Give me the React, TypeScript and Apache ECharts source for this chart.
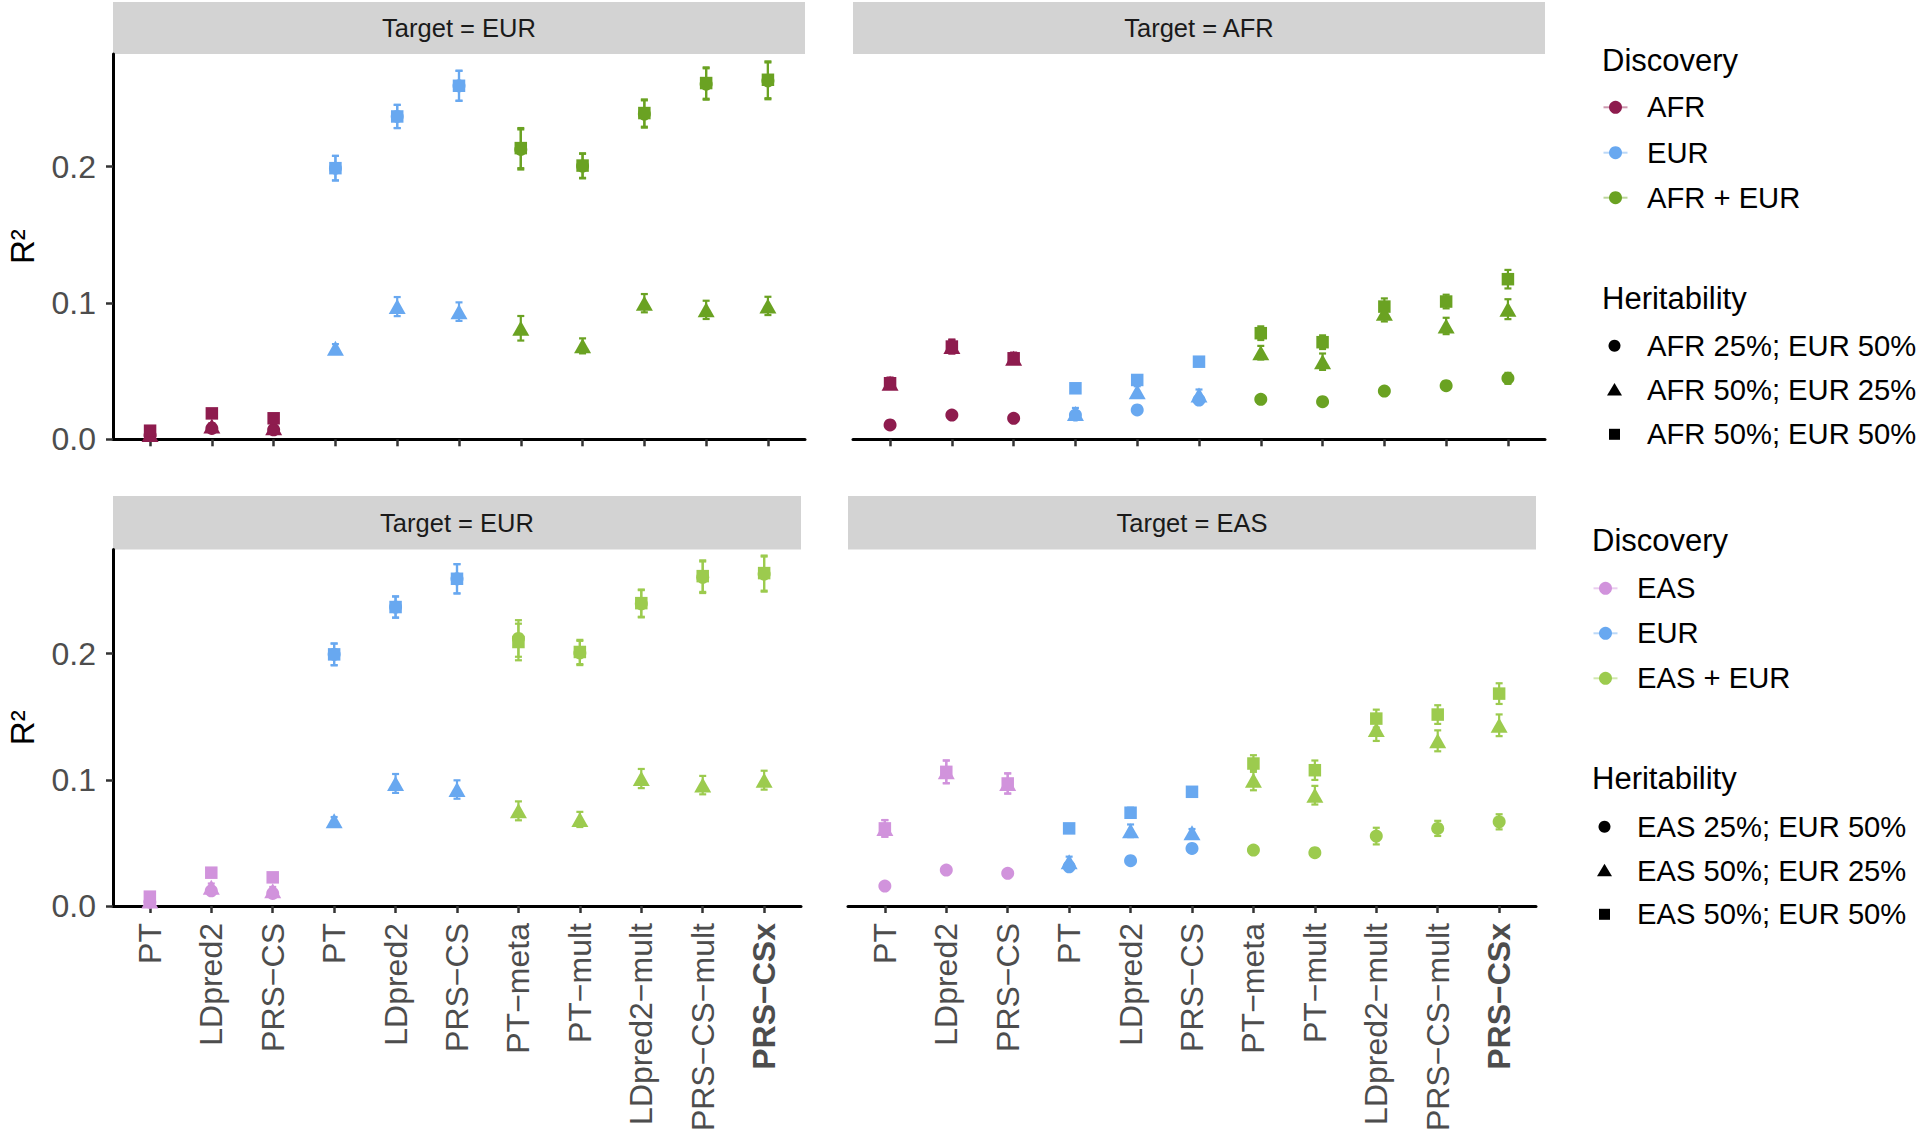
import React, { useEffect, useRef } from "react";
import * as echarts from "echarts";

// ---------- data ----------
const methods = [
  "PT", "LDpred2", "PRS−CS", "PT", "LDpred2", "PRS−CS",
  "PT−meta", "PT−mult", "LDpred2−mult", "PRS−CS−mult", "PRS−CSx",
];
const methodIdx = [0, 1, 2, 3, 4, 5, 6, 7, 8, 9, 10];
const yTicks = [0, 0.1, 0.2];
const panelTitles = ["Target = EUR", "Target = AFR", "Target = EUR", "Target = EAS"];
const discoveryTop = ["AFR", "EUR", "AFR + EUR"];
const discoveryBottom = ["EAS", "EUR", "EAS + EUR"];
const heritTop = ["AFR 25%; EUR 50%", "AFR 50%; EUR 25%", "AFR 50%; EUR 50%"];
const heritBottom = ["EAS 25%; EUR 50%", "EAS 50%; EUR 25%", "EAS 50%; EUR 50%"];
const groups = [[0, 1, 2], [3, 4, 5], [6, 7, 8, 9, 10]];

// Top-left: Target = EUR (AFR discovery set)
const tlCircle = [0.003, 0.008, 0.007, 0.1988, 0.2367, 0.2592, 0.2125, 0.2003, 0.2385, 0.2605, 0.2628];
const tlTriangle = [0.0035, 0.0098, 0.0085, 0.0668, 0.0973, 0.0936, 0.0814, 0.0685, 0.0998, 0.0949, 0.0978];
const tlSquare = [0.0063, 0.019, 0.0154, 0.1988, 0.2367, 0.2592, 0.2135, 0.2007, 0.2392, 0.2612, 0.2636];
const tlCircleErr = [0.001, 0.002, 0.002, 0.009, 0.0085, 0.011, 0.0147, 0.009, 0.01, 0.0115, 0.0135];
const tlTriangleErr = [0.001, 0.002, 0.002, 0.003, 0.007, 0.0068, 0.009, 0.0055, 0.0067, 0.0067, 0.0067];
const tlSquareErr = [0.002, 0.003, 0.003, 0.009, 0.0085, 0.011, 0.0147, 0.009, 0.01, 0.0115, 0.0135];

// Top-right: Target = AFR
const trCircle = [0.0105, 0.0178, 0.0154, 0.0178, 0.0215, 0.0288, 0.0293, 0.0276, 0.0354, 0.0393, 0.0447];
const trTriangle = [0.0411, 0.068, 0.0594, 0.019, 0.0349, 0.0325, 0.0635, 0.0569, 0.0924, 0.0831, 0.0954];
const trSquare = [0.0411, 0.068, 0.0594, 0.0374, 0.0435, 0.0569, 0.0778, 0.0712, 0.0973, 0.101, 0.1174];
const trCircleErr = [0.002, 0.002, 0.002, 0.002, 0.002, 0.003, 0.003, 0.003, 0.003, 0.003, 0.004];
const trTriangleErr = [0.004, 0.005, 0.004, 0.004, 0.004, 0.004, 0.005, 0.006, 0.006, 0.006, 0.0073];
const trSquareErr = [0.004, 0.005, 0.004, 0.003, 0.003, 0.003, 0.005, 0.005, 0.006, 0.005, 0.0068];

// Bottom-left: Target = EUR (EAS discovery set)
const blCircle = [0.003, 0.012, 0.01, 0.1994, 0.2369, 0.2593, 0.212, 0.2005, 0.2395, 0.2605, 0.263];
const blTriangle = [0.004, 0.0148, 0.0121, 0.0675, 0.0971, 0.0923, 0.0754, 0.0686, 0.101, 0.0958, 0.0997];
const blSquare = [0.0074, 0.0264, 0.0227, 0.1994, 0.2369, 0.2593, 0.2092, 0.2013, 0.24, 0.2614, 0.2638];
const blCircleErr = [0.001, 0.002, 0.002, 0.0086, 0.0084, 0.0116, 0.0145, 0.0096, 0.0108, 0.0125, 0.0139];
const blTriangleErr = [0.001, 0.003, 0.003, 0.003, 0.0075, 0.0073, 0.0075, 0.006, 0.0076, 0.0073, 0.0075];
const blSquareErr = [0.002, 0.003, 0.003, 0.0086, 0.0084, 0.0116, 0.0145, 0.0096, 0.0108, 0.0125, 0.0139];

// Bottom-right: Target = EAS
const brCircle = [0.0158, 0.0285, 0.0259, 0.0311, 0.0359, 0.0456, 0.0443, 0.0422, 0.0554, 0.0615, 0.0667];
const brTriangle = [0.0615, 0.1063, 0.0971, 0.0351, 0.0596, 0.058, 0.0997, 0.0878, 0.1398, 0.1309, 0.1432];
const brSquare = [0.0615, 0.1063, 0.0971, 0.0615, 0.0739, 0.0905, 0.1129, 0.1076, 0.1485, 0.1517, 0.1683];
const brCircleErr = [0.002, 0.002, 0.002, 0.003, 0.003, 0.003, 0.003, 0.003, 0.0066, 0.006, 0.006];
const brTriangleErr = [0.0066, 0.009, 0.008, 0.004, 0.005, 0.003, 0.008, 0.0074, 0.009, 0.0083, 0.0086];
const brSquareErr = [0.0066, 0.009, 0.008, 0.003, 0.004, 0.003, 0.0066, 0.0077, 0.0071, 0.0074, 0.0082];

// ---------- styles ----------
const FONT = "'Liberation Sans', Arial, Helvetica, sans-serif";
const colorOf: Record<string, string> = {
  AFR: "#8E1C4E",
  EUR: "#68A8F0",
  "AFR + EUR": "#6AA222",
  EAS: "#D193DC",
  "EAS + EUR": "#9CCB4E",
};
const Y_MAX = 0.2825;

const layouts = [
  { left: 113, top: 54, width: 692, height: 385.3, stripTop: 2, stripH: 52, showX: false, showY: true },
  { left: 853, top: 54, width: 692, height: 385.3, stripTop: 2, stripH: 52, showX: false, showY: false },
  { left: 113, top: 549.5, width: 688, height: 356.5, stripTop: 496, stripH: 53.5, showX: true, showY: true },
  { left: 848, top: 549.5, width: 688, height: 356.5, stripTop: 496, stripH: 53.5, showX: true, showY: false },
];

const panels = [
  { disc: discoveryTop, shapes: [[tlCircle, tlCircleErr], [tlTriangle, tlTriangleErr], [tlSquare, tlSquareErr]] },
  { disc: discoveryTop, shapes: [[trCircle, trCircleErr], [trTriangle, trTriangleErr], [trSquare, trSquareErr]] },
  { disc: discoveryBottom, shapes: [[blCircle, blCircleErr], [blTriangle, blTriangleErr], [blSquare, blSquareErr]] },
  { disc: discoveryBottom, shapes: [[brCircle, brCircleErr], [brTriangle, brTriangleErr], [brSquare, brSquareErr]] },
];

const symbols: any[] = ["circle", "triangle", "rect"];
const symbolSizes: any[] = [13, [17, 15], 12.5];

function buildOption() {
  const series: any[] = [];
  panels.forEach((p, pi) => {
    const errData: any[] = [];
    p.shapes.forEach(([vals, errs]) => {
      groups.forEach((g, gi) => {
        g.forEach((i) => {
          errData.push([i, vals[i] - errs[i], vals[i] + errs[i], gi]);
        });
      });
    });
    const cols = p.disc.map((d) => colorOf[d]);
    series.push({
      type: "custom",
      xAxisIndex: pi,
      yAxisIndex: pi,
      z: 2,
      silent: true,
      data: errData,
      encode: { x: 0, y: [1, 2] },
      renderItem: (params: any, api: any) => {
        const x = api.value(0);
        const lo = api.coord([x, api.value(1)]);
        const hi = api.coord([x, api.value(2)]);
        const c = cols[api.value(3)];
        const w = 3.5;
        const st = { stroke: c, lineWidth: 2.2 };
        return {
          type: "group",
          children: [
            { type: "line", shape: { x1: lo[0], y1: lo[1], x2: hi[0], y2: hi[1] }, style: st },
            { type: "line", shape: { x1: lo[0] - w, y1: lo[1], x2: lo[0] + w, y2: lo[1] }, style: st },
            { type: "line", shape: { x1: hi[0] - w, y1: hi[1], x2: hi[0] + w, y2: hi[1] }, style: st },
          ],
        };
      },
    });
    p.shapes.forEach(([vals], si) => {
      groups.forEach((g, gi) => {
        series.push({
          type: "scatter",
          name: p.disc[gi],
          xAxisIndex: pi,
          yAxisIndex: pi,
          z: 3,
          symbol: symbols[si],
          symbolSize: symbolSizes[si],
          itemStyle: { color: colorOf[p.disc[gi]], opacity: 1 },
          data: g.map((i) => [i, vals[i]]),
        });
      });
    });
  });

  const graphic: any[] = [];
  layouts.forEach((l, i) => {
    graphic.push({
      type: "rect",
      silent: true,
      shape: { x: l.left, y: l.stripTop, width: l.width, height: l.stripH },
      style: { fill: "#D3D3D3" },
      z: 0,
    });
    graphic.push({
      type: "text",
      silent: true,
      x: l.left + l.width / 2,
      y: l.stripTop + l.stripH / 2,
      style: {
        text: panelTitles[i],
        fontSize: 25.5,
        fontFamily: FONT,
        fill: "#1A1A1A",
        align: "center",
        verticalAlign: "middle",
      },
      z: 1,
    });
  });

  const legendBlocks = [
    { x: 1602, iconX: 1615.5, textX: 1647, titleY: 60, rows: [107.3, 152.7, 197.7], hTitleY: 298.3, hRows: [345.7, 390, 434.3], disc: discoveryTop, herit: heritTop },
    { x: 1592, iconX: 1605.5, textX: 1637, titleY: 540, rows: [588.3, 633.3, 678.3], hTitleY: 778.3, hRows: [826.7, 870.7, 914.3], disc: discoveryBottom, herit: heritBottom },
  ];
  const txt = (text: string, x: number, y: number, size: number) => ({
    type: "text",
    silent: true,
    x,
    y,
    style: { text, fontSize: size, fontFamily: FONT, fill: "#000", align: "left", verticalAlign: "middle" },
  });
  legendBlocks.forEach((b) => {
    graphic.push(txt("Discovery", b.x, b.titleY, 31));
    b.disc.forEach((d, k) => {
      const y = b.rows[k];
      const c = colorOf[d];
      graphic.push({
        type: "line",
        silent: true,
        shape: { x1: b.iconX - 12, y1: y, x2: b.iconX + 12, y2: y },
        style: { stroke: c, lineWidth: 2, opacity: 0.45 },
      });
      graphic.push({ type: "circle", silent: true, shape: { cx: b.iconX, cy: y, r: 6.5 }, style: { fill: c } });
      graphic.push(txt(d, b.textX, y, 29.2));
    });
    graphic.push(txt("Heritability", b.x, b.hTitleY, 31));
    b.herit.forEach((h, k) => {
      const y = b.hRows[k];
      const cx = b.iconX - 1;
      if (k === 0) graphic.push({ type: "circle", silent: true, shape: { cx, cy: y, r: 6 }, style: { fill: "#000" } });
      if (k === 1)
        graphic.push({
          type: "polygon",
          silent: true,
          shape: { points: [[cx - 7.5, y + 5.5], [cx + 7.5, y + 5.5], [cx, y - 7]] },
          style: { fill: "#000" },
        });
      if (k === 2)
        graphic.push({ type: "rect", silent: true, shape: { x: cx - 5.5, y: y - 5.5, width: 11, height: 11 }, style: { fill: "#000" } });
      graphic.push(txt(h, b.textX, y, 29.2));
    });
  });

  return {
    animation: false,
    backgroundColor: "#ffffff",
    textStyle: { fontFamily: FONT },
    grid: layouts.map((l) => ({ left: l.left, top: l.top, width: l.width, height: l.height, containLabel: false })),
    xAxis: layouts.map((l, i) => ({
      type: "value",
      gridIndex: i,
      min: -0.6,
      max: 10.6,
      axisLine: { show: true, onZero: false, lineStyle: { color: "#000", width: 3 } },
      axisTick: { show: true, customValues: methodIdx, length: 7, lineStyle: { color: "#333", width: 2.5 } },
      axisLabel: {
        show: l.showX,
        customValues: methodIdx,
        rotate: 90,
        margin: 17,
        fontSize: 32,
        color: "#4D4D4D",
        fontFamily: FONT,
        formatter: (v: number) => {
          const i = Math.round(v);
          return i === 10 ? "{b|" + methods[i] + "}" : methods[i];
        },
        rich: { b: { fontWeight: "bold", fontSize: 32, color: "#4D4D4D", fontFamily: FONT } },
      },
      splitLine: { show: false },
    })),
    yAxis: layouts.map((l, i) => ({
      type: "value",
      gridIndex: i,
      show: l.showY,
      min: 0,
      max: Y_MAX,
      name: l.showY ? "R²" : "",
      nameLocation: "middle",
      nameRotate: 90,
      nameGap: 74,
      nameTextStyle: { fontSize: 33, color: "#000", fontFamily: FONT },
      axisLine: { show: true, onZero: false, lineStyle: { color: "#000", width: 3 } },
      axisTick: { show: true, customValues: yTicks, length: 7, lineStyle: { color: "#333", width: 2.5 } },
      axisLabel: {
        customValues: yTicks,
        margin: 17,
        fontSize: 32,
        color: "#4D4D4D",
        fontFamily: FONT,
        formatter: (v: number) => v.toFixed(1),
      },
      splitLine: { show: false },
    })),
    series,
    graphic,
  };
}

export default function App() {
  const ref = useRef<HTMLDivElement>(null);
  useEffect(() => {
    if (!ref.current) return;
    const chart = echarts.init(ref.current, null, { renderer: "svg" });
    chart.setOption(buildOption() as any);
    return () => chart.dispose();
  }, []);
  return (
    <div
      ref={ref}
      style={{ position: "absolute", left: 0, top: 0, width: 1920, height: 1138, background: "#fff" }}
    />
  );
}
